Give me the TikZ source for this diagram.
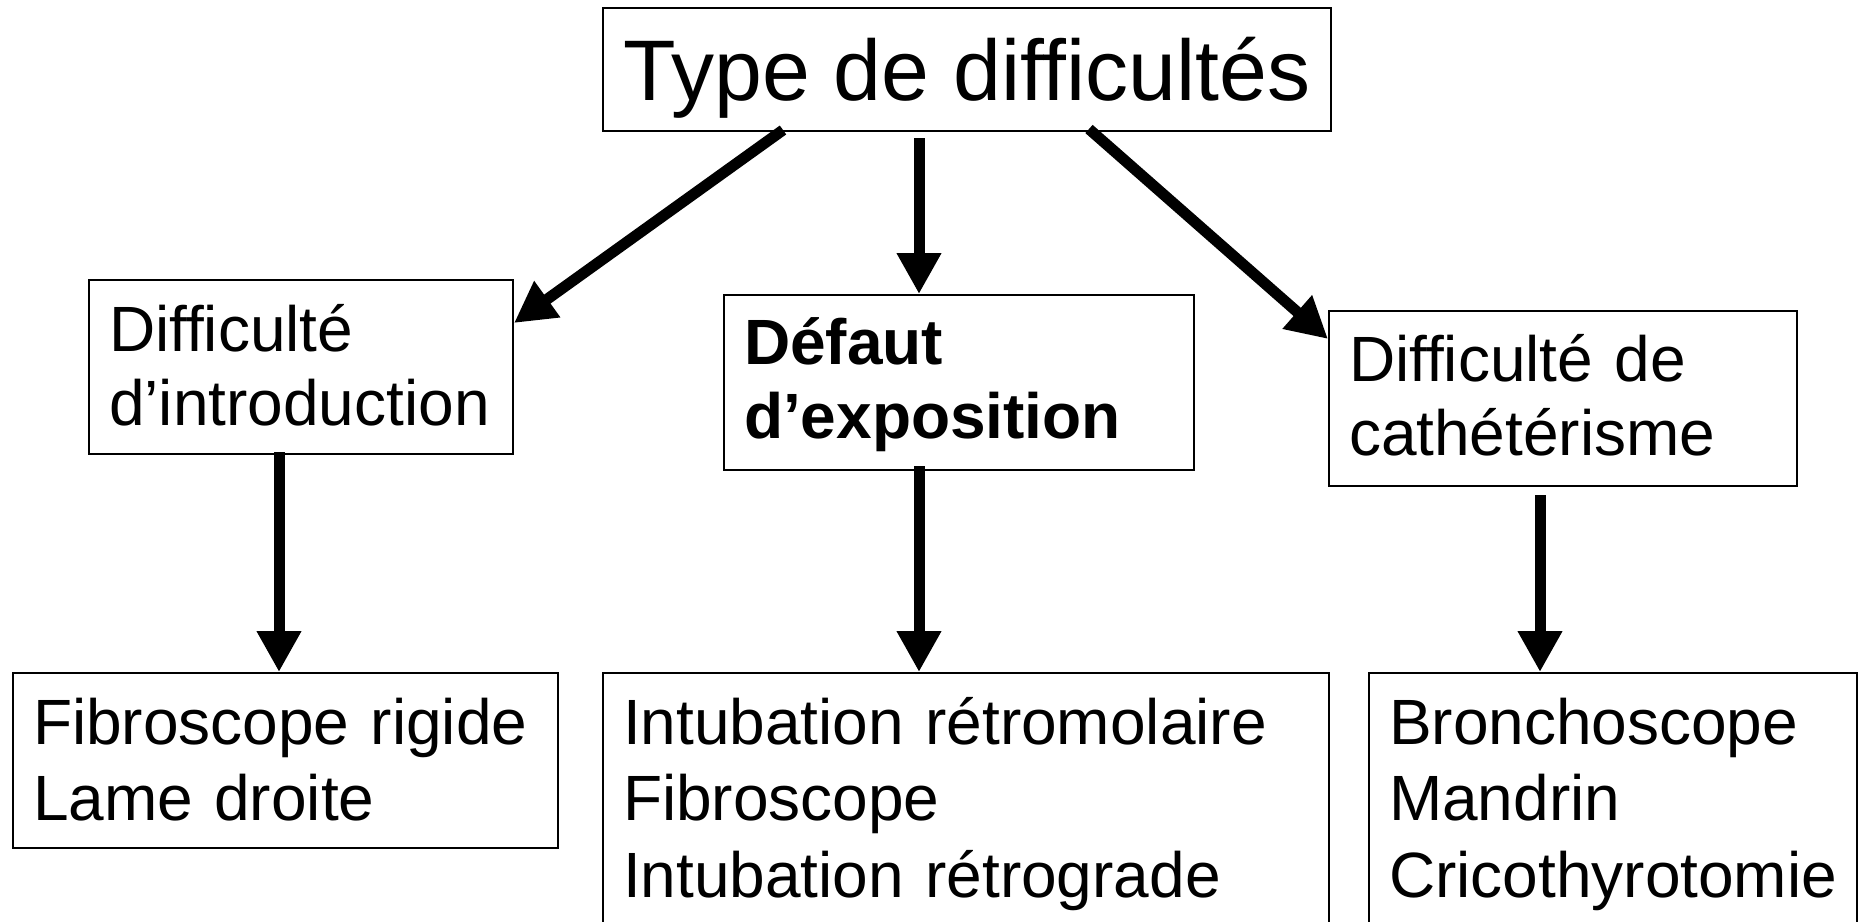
\documentclass[tikz,border=0pt]{standalone}
\usepackage{fontspec}
\setmainfont{Liberation Sans}[Ligatures=NoCommon]
\usetikzlibrary{arrows.meta}
\begin{document}
\begin{tikzpicture}[x=0.5pt,y=-0.5pt,
  box/.style={draw, line width=1pt, anchor=north west, inner ysep=0pt, inner xsep=10pt, align=left},
  mid/.style={box, font=\fontsize{32}{37}\selectfont},
  low/.style={box, font=\fontsize{32}{38.25}\selectfont},
  arr/.style={line width=5.5pt, -{Triangle[length=20.5pt,width=21pt]}}]
\useasboundingbox (0,0) rectangle (1858,921);
\clip (0,0) rectangle (1858,921);
\fill[white] (0,0) rectangle (1858,921);
\node[box, inner xsep=0pt, minimum width=364pt, font=\fontsize{43}{50}\selectfont, text height=46pt, text depth=15.5pt] (T) at (602,7) {Type de difficultés};
\node[mid, text width=192pt, text height=35.5pt, text depth=51.5pt] (A) at (88,279) {Difficulté\\\mbox{d’introduction}};
\node[mid, text width=215pt, text height=34.5pt, text depth=53pt] (B) at (723,294) {\bfseries Défaut\\\mbox{d’exposition}};
\node[mid, text width=214pt, text height=35pt, text depth=52.5pt] (C) at (1328,310) {Difficulté de\\\mbox{cathétérisme}};
\node[low, text width=252.5pt, text height=35.5pt, text depth=52pt] (D) at (12,672) {Fibroscope rigide\\Lame droite};
\node[low, text width=343pt, text height=35.5pt, text depth=110pt] (E) at (602,672) {Intubation rétromolaire\\Fibroscope\\Intubation rétrograde};
\node[low, text width=224pt, text height=35.5pt, text depth=110pt] (F) at (1368,672) {\mbox{Bronchoscope}\\Mandrin\\\mbox{Cricothyrotomie}};
\draw[arr] ([xshift=90.5pt,yshift=1pt]T.south west) -- ([yshift=-22pt]A.north east);
\draw[arr] ([xshift=158.5pt,yshift=-3pt]T.south west) -- ([xshift=98pt]B.north west);
\draw[arr] ([xshift=243.5pt,yshift=1.5pt]T.south west) -- ([yshift=-14.5pt]C.north west);
\draw[arr] ([xshift=95.5pt,yshift=1.5pt]A.south west) -- ([xshift=133.5pt]D.north west);
\draw[arr] ([xshift=98pt,yshift=2.5pt]B.south west) -- ([xshift=158.5pt]E.north west);
\draw[arr] ([xshift=106pt,yshift=-4pt]C.south west) -- ([xshift=86pt]F.north west);
\end{tikzpicture}
\end{document}
